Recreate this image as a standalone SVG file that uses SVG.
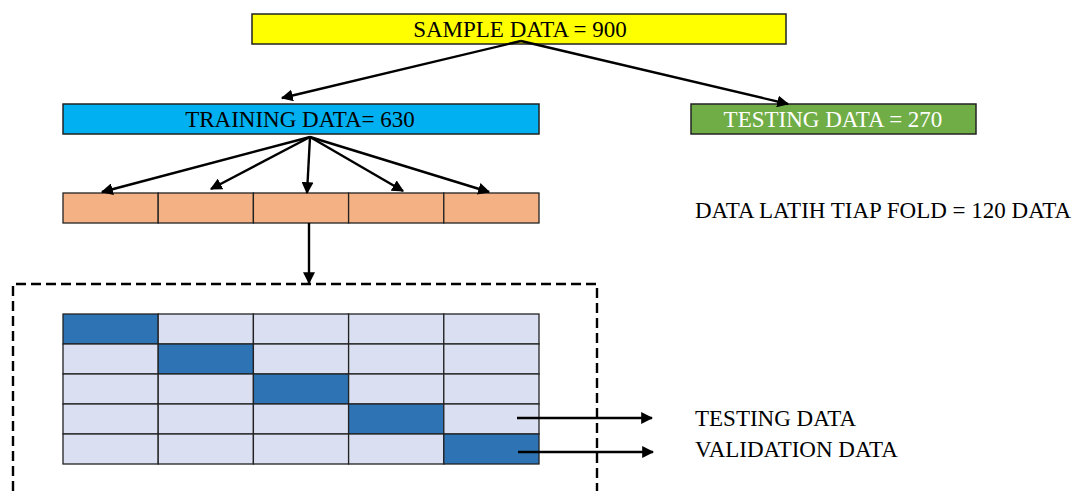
<svg xmlns="http://www.w3.org/2000/svg" width="1077" height="491" viewBox="0 0 1077 491">
<defs>
<style>
text{font-family:"Liberation Serif","Times New Roman",serif;font-size:23px;fill:#000}
.box{stroke:#222;stroke-width:1.5}
.cell{fill:#dae0f2;stroke:#222;stroke-width:1.3}
.dark{fill:#2e74b5}
.fold{fill:#f4b183;stroke:#222;stroke-width:1.3}
.con{stroke:#000;stroke-width:2.4;fill:none;marker-end:url(#ah)}
</style>
<marker id="ah" viewBox="0 0 10 10" refX="9" refY="5" markerWidth="5" markerHeight="5" orient="auto" markerUnits="strokeWidth">
<path d="M0,0 L10,5 L0,10 z" fill="#000"/>
</marker>
</defs>
<rect width="1077" height="491" fill="#fff"/>
<g id="sample">
<rect class="box" x="252" y="14" width="534" height="30" fill="#ffff00"/>
<text x="520" y="37" text-anchor="middle">SAMPLE DATA = 900</text>
</g>
<g id="training">
<rect class="box" x="63" y="104" width="476" height="30" fill="#00b0f0"/>
<text x="300" y="127" text-anchor="middle">TRAINING DATA= 630</text>
</g>
<g id="testing">
<rect class="box" x="691" y="104" width="285" height="30" fill="#70ad47"/>
<text x="833" y="127" text-anchor="middle" style="fill:#fff">TESTING DATA = 270</text>
</g>
<g id="folds">
<rect class="fold" x="63" y="193" width="95.2" height="30"/>
<rect class="fold" x="158.2" y="193" width="95.2" height="30"/>
<rect class="fold" x="253.4" y="193" width="95.2" height="30"/>
<rect class="fold" x="348.6" y="193" width="95.2" height="30"/>
<rect class="fold" x="443.8" y="193" width="95.2" height="30"/>
</g>
<g id="fold-label">
<text x="695" y="218">DATA LATIH TIAP FOLD = 120 DATA</text>
</g>
<g id="cv-box">
<path d="M13,491 V284 H597 V491" fill="none" stroke="#000" stroke-width="2.4" stroke-dasharray="10,5"/>
</g>
<g id="grid">
<rect class="cell dark" x="63" y="314" width="95.2" height="30"/>
<rect class="cell" x="158.2" y="314" width="95.2" height="30"/>
<rect class="cell" x="253.4" y="314" width="95.2" height="30"/>
<rect class="cell" x="348.6" y="314" width="95.2" height="30"/>
<rect class="cell" x="443.8" y="314" width="95.2" height="30"/>
<rect class="cell" x="63" y="344" width="95.2" height="30"/>
<rect class="cell dark" x="158.2" y="344" width="95.2" height="30"/>
<rect class="cell" x="253.4" y="344" width="95.2" height="30"/>
<rect class="cell" x="348.6" y="344" width="95.2" height="30"/>
<rect class="cell" x="443.8" y="344" width="95.2" height="30"/>
<rect class="cell" x="63" y="374" width="95.2" height="30"/>
<rect class="cell" x="158.2" y="374" width="95.2" height="30"/>
<rect class="cell dark" x="253.4" y="374" width="95.2" height="30"/>
<rect class="cell" x="348.6" y="374" width="95.2" height="30"/>
<rect class="cell" x="443.8" y="374" width="95.2" height="30"/>
<rect class="cell" x="63" y="404" width="95.2" height="30"/>
<rect class="cell" x="158.2" y="404" width="95.2" height="30"/>
<rect class="cell" x="253.4" y="404" width="95.2" height="30"/>
<rect class="cell dark" x="348.6" y="404" width="95.2" height="30"/>
<rect class="cell" x="443.8" y="404" width="95.2" height="30"/>
<rect class="cell" x="63" y="434" width="95.2" height="30"/>
<rect class="cell" x="158.2" y="434" width="95.2" height="30"/>
<rect class="cell" x="253.4" y="434" width="95.2" height="30"/>
<rect class="cell" x="348.6" y="434" width="95.2" height="30"/>
<rect class="cell dark" x="443.8" y="434" width="95.2" height="30"/>
</g>
<g id="testing-label"><text x="695" y="426">TESTING DATA</text></g>
<g id="validation-label"><text x="695" y="457">VALIDATION DATA</text></g>
<g id="connectors">
<line class="con" x1="521" y1="41" x2="282" y2="98"/>
<line class="con" x1="521" y1="41" x2="788" y2="104"/>
<line class="con" x1="310" y1="137" x2="102" y2="192"/>
<line class="con" x1="310" y1="137" x2="211" y2="189"/>
<line class="con" x1="310" y1="137" x2="307" y2="193"/>
<line class="con" x1="310" y1="137" x2="403" y2="191"/>
<line class="con" x1="310" y1="137" x2="489" y2="192"/>
<line class="con" x1="309" y1="223" x2="309" y2="283"/>
<line class="con" x1="517" y1="418" x2="652" y2="418"/>
<line class="con" x1="518" y1="452" x2="653" y2="452"/>
</g>
</svg>
